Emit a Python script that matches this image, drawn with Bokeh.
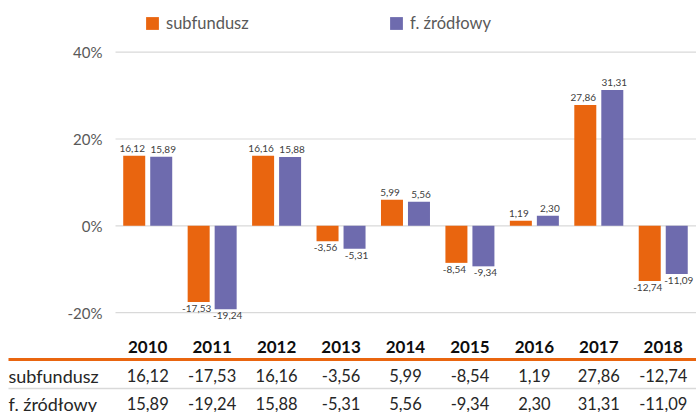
from bokeh.plotting import figure
from bokeh.models import ColumnDataSource, Legend, LegendItem
from bokeh.core.properties import value
from bokeh.embed import file_html
from bokeh.resources import INLINE

# ---- data ----
years = ["2010", "2011", "2012", "2013", "2014", "2015", "2016", "2017", "2018"]
subfundusz = [16.12, -17.53, 16.16, -3.56, 5.99, -8.54, 1.19, 27.86, -12.74]
zrodlowy = [15.89, -19.24, 15.88, -5.31, 5.56, -9.34, 2.30, 31.31, -11.09]
series_names = ["subfundusz", "f. źródłowy"]
y_ticks = [-20, 0, 20, 40]

# ---- style ----
ORANGE = "#E9650F"
PURPLE = "#6E6BAE"
GRID = "#D9D9D9"
FONT = value("Lato")

W, H = 696, 412
PX_X = 64.44          # px per category
PX_Y = 4.34           # px per percent
X0_PAGE, Y0_PAGE = 115, 225.3   # canvas position of category 0 left edge / value 0


def xd(px):
    return (px - X0_PAGE) / PX_X


def yd(py):
    return (Y0_PAGE - py) / PX_Y


p = figure(width=W, height=H, output_backend="svg", toolbar_location=None,
           x_range=(xd(0), xd(W)), y_range=(yd(H), yd(0)),
           x_axis_type=None, y_axis_type=None, min_border=0,
           outline_line_color=None)
p.grid.visible = False

n = len(years)
centers = [i + 0.5 for i in range(n)]
off = 13.5 / PX_X
bw = 22 / PX_X

# gridlines
p.segment(x0=[0] * len(y_ticks), x1=[xd(W + 4)] * len(y_ticks), y0=y_ticks, y1=y_ticks,
          line_color=GRID, line_width=1.2)

# y tick labels
p.text(x=[xd(102)] * len(y_ticks), y=y_ticks, text=[f"{t}%" for t in y_ticks],
       text_align="right", text_baseline="middle", text_font=FONT,
       text_font_size="15px", text_color="#595959")

# bars
src1 = ColumnDataSource(dict(x=[c - off for c in centers], top=subfundusz))
src2 = ColumnDataSource(dict(x=[c + off for c in centers], top=zrodlowy))
r1 = p.vbar(x="x", top="top", bottom=0, width=bw, source=src1, fill_color=ORANGE, line_color=None)
r2 = p.vbar(x="x", top="top", bottom=0, width=bw, source=src2, fill_color=PURPLE, line_color=None)


def fmt(v):
    return f"{v:.2f}".replace(".", ",")


# data labels
for xs, vals, xo in ((src1.data["x"], subfundusz, -2), (src2.data["x"], zrodlowy, 2)):
    pos = [(x, v) for x, v in zip(xs, vals) if v >= 0]
    neg = [(x, v) for x, v in zip(xs, vals) if v < 0]
    p.text(x=[a for a, _ in pos], y=[b for _, b in pos], text=[fmt(b) for _, b in pos],
           text_align="center", text_baseline="bottom", y_offset=-4, x_offset=xo,
           text_font=FONT, text_font_size="10px", text_color="#404040")
    p.text(x=[a for a, _ in neg], y=[b for _, b in neg], text=[fmt(b) for _, b in neg],
           text_align="center", text_baseline="top", y_offset=3, x_offset=xo,
           text_font=FONT, text_font_size="10px", text_color="#404040")

# data table below
p.text(x=centers, y=[yd(346)] * n, text=years, text_align="center", text_baseline="middle",
       text_font=FONT, text_font_size="17px", text_font_style="bold", text_color="#0D0D0D")
p.segment(x0=[xd(8)], x1=[xd(W + 4)], y0=[yd(359)], y1=[yd(359)], line_color=ORANGE, line_width=3)
p.segment(x0=[xd(8)], x1=[xd(W + 4)], y0=[yd(388)], y1=[yd(388)], line_color=GRID, line_width=1.5)

row_y = [yd(375), yd(403)]
for name, vals, ry in zip(series_names, (subfundusz, zrodlowy), row_y):
    p.text(x=[xd(8)], y=[ry], text=[name], text_align="left", text_baseline="middle",
           text_font=FONT, text_font_size="18px", text_color="#262626")
    p.text(x=centers, y=[ry] * n, text=[fmt(v) for v in vals], text_align="center",
           text_baseline="middle", text_font=FONT, text_font_size="16.5px", text_color="#262626")

# legend
legend = Legend(items=[LegendItem(label=series_names[0], renderers=[r1]),
                       LegendItem(label=series_names[1], renderers=[r2])],
                orientation="horizontal", location=(144, 379), padding=0, margin=0,
                spacing=0, glyph_width=16, glyph_height=16, label_standoff=6,
                label_width=222, label_height=16,
                label_text_font="Lato", label_text_font_size="16.5px", label_text_color="#595959",
                border_line_alpha=0, background_fill_alpha=0)
p.add_layout(legend)

open("out.html", "w").write(file_html(p, INLINE))
